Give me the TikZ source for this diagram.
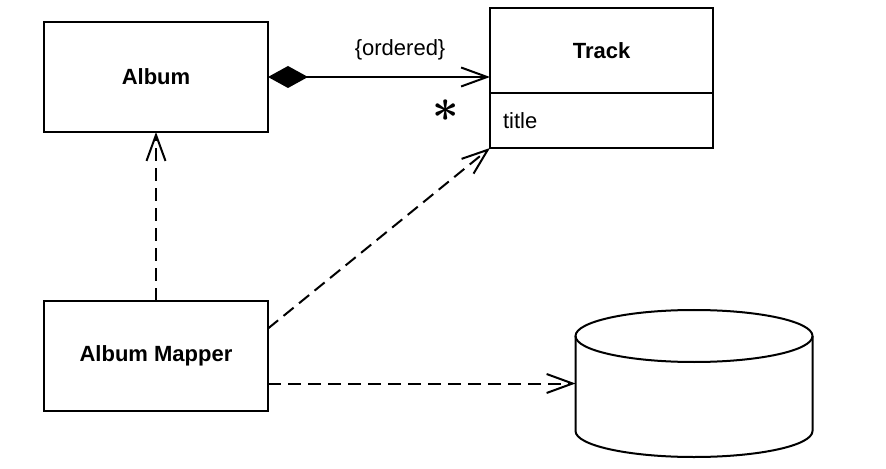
\documentclass[tikz,border=0pt]{standalone}
\usepackage{amsmath}
\usepackage{fontspec}
\setmainfont{Liberation Sans}
\usetikzlibrary{positioning,arrows.meta,calc}

\begin{document}
\begin{tikzpicture}[
  x=0.5pt, y=-0.5pt,
  line width=1pt,
  txt/.style={font=\fontsize{11}{13}\selectfont},
  box/.style={draw, txt, font=\fontsize{11}{13}\selectfont\bfseries, inner sep=0pt, outer sep=0pt,
              minimum width=112pt, minimum height=55pt},
  attrbox/.style={draw, txt, align=left, inner xsep=6.5pt, inner ysep=0pt, outer sep=0pt,
                  text width=98.5pt, minimum height=27.5pt},
  barb/.style={-{Straight Barb[length=13pt, width=9.5pt]}},
  dep/.style={barb, dash pattern=on 6.5pt off 3.5pt},
  comp/.style={{Diamond[length=20pt, width=11pt]}-{Straight Barb[length=13pt, width=9.5pt]}}
]
\useasboundingbox (0,0) rectangle (886,469);

\node[box] (album) at (156,77) {Album};
\node[box] (mapper) at (156,356) {Album Mapper};
\node[box, minimum width=111.5pt, minimum height=42.5pt] (track) at (601.5,50.5) {Track};
\node[attrbox, below=0pt of track] (trackattr) {title};

% database
\node[inner sep=0pt, outer sep=0pt, minimum width=118.5pt, minimum height=73.5pt] (db) at (694,383.5) {};
\draw ([yshift=-13pt]db.north) ellipse [x radius=59.25pt, y radius=13pt];
\draw ([yshift=-13pt]db.north west) -- ([yshift=13pt]db.south west)
  arc[start angle=180, end angle=360, x radius=59.25pt, y radius=13pt]
  -- ([yshift=-13pt]db.north east);

\draw[comp] (album.east) -- node[txt, pos=0.595, yshift=13.5pt] (ordered) {\{ordered\}}
  node[pos=0.8, yshift=-17pt, scale=2.3] (many) {$\boldsymbol{\ast}$} (album.east -| track.west);
\draw[dep] (mapper.north) -- (album.south);
\draw[dep] ($(mapper.north east)!0.25!(mapper.south east)$) coordinate (mapup) -- (trackattr.south west);
\draw[dep] ($(mapper.north east)!0.75!(mapper.south east)$) coordinate (mapdown) -- (mapdown -| db.west);
\end{tikzpicture}
\end{document}
